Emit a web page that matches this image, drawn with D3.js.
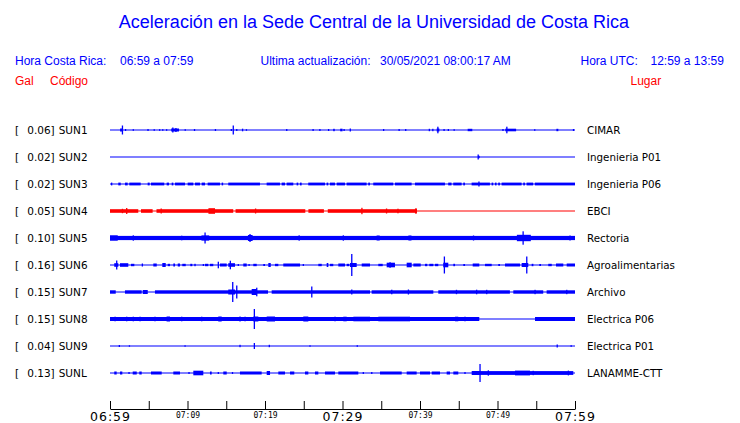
<!DOCTYPE html>
<html><head><meta charset="utf-8">
<script src="https://cdn.jsdelivr.net/npm/d3@7/dist/d3.min.js"></script>
<style>
html,body{margin:0;padding:0;background:#fff;}
svg{display:block;}
</style></head>
<body>
<script>
// ---------- DATA ----------
const codes  = ["SUN1","SUN2","SUN3","SUN4","SUN5","SUN6","SUN7","SUN8","SUN9","SUNL"];
const galMax = ["0.06","0.02","0.02","0.05","0.10","0.16","0.15","0.15","0.04","0.13"];
const places = ["CIMAR","Ingenieria P01","Ingenieria P06","EBCI","Rectoria","Agroalimentarias","Archivo","Electrica P06","Electrica P01","LANAMME-CTT"];
// minutes after 06:59 for every 5-minute tick; labels only every 10 min
const tickMinutes = [0,5,10,15,20,25,30,35,40,45,50,55,60];
const tickLabels  = ["06:59","","07:09","","07:19","","07:29","","07:39","","07:49","","07:59"];
const majorLabels = ["06:59","07:29","07:59"];

// Continuous noise bands per station: [startMin, endMin, halfAmplitude]
const sun1Bands = [];
const sun2Bands = [];
const sun3Bands = [[0.13,0.30,1.4],[1.07,1.38,1.4],[1.94,2.28,1.4],[2.49,3.96,1.4],[4.86,5.12,1.4],[5.29,7.0,1.4],[7.31,7.61,1.4],[7.96,8.17,1.4],[8.39,9.68,1.4],[10.02,10.75,1.4],[10.97,11.61,1.4],[11.83,12.26,1.4],[12.6,14.19,1.4],[14.41,14.6,1.4],[15.26,19.35,1.4],[20.21,21.93,1.4],[22.15,22.58,1.4],[22.79,23.65,1.4],[24.08,24.29,1.4],[24.51,24.73,1.4],[25.58,27.74,1.4],[27.95,28.16,1.4],[28.38,29.03,1.4],[29.25,30.32,1.4],[30.53,33.11,1.4],[33.32,33.54,1.4],[33.97,36.55,1.4],[36.77,38.92,1.4],[39.35,43.22,1.4],[43.64,44.07,1.4],[44.29,45.37,1.4],[45.58,45.8,1.4],[46.66,49.02,1.4],[49.24,49.45,1.4],[49.67,49.88,1.4],[50.09,50.31,1.4],[50.53,53.11,1.4],[53.32,53.54,1.4],[53.75,54.6,1.4],[54.82,60,1.4]];
const sun4Bands = [[0,3.65,1.8],[4.0,5.5,1.8],[6.0,15.9,1.8],[16.2,25.2,1.8],[25.6,27.6,1.8],[28.1,39.6,1.8]];
const sun5Bands = [[0,60,2.1],[0,1.0,2.7]];
const sun6Bands = [];
const sun7Bands = [[0,0.74,1.7],[1.93,4.09,1.7],[5.8,20.39,1.7],[20.86,33.55,1.7],[33.76,41.72,1.7],[42.36,51.6,1.7],[52.04,55.9,1.7],[56.34,60,1.7]];
const sun8Bands = [[0,47.65,2.0],[54.84,60,2.0]];
const sun9Bands = [];
const sunLBands = [[47.74,59.78,1.9]];

// Bursts and spikes per station: [startMin, endMin, halfAmplitude]
const sun1Bursts = [[1.3,1.6,1.5],[1.6,1.6,4.5],[2.0,2.0,1],[3.0,3.0,0.8],[4.9,4.9,1],[5.7,5.7,0.8],[6.4,6.4,0.8],[6.8,6.8,0.8],[7.3,7.3,0.8],[7.9,8.9,1.5],[8.1,8.1,2.5],[8.5,8.5,2],[9.7,9.7,0.8],[10.9,10.9,1],[13.6,13.6,1],[15.65,15.65,1],[15.9,15.9,4.5],[16.35,16.35,1],[17.1,17.1,1.3],[17.6,17.6,0.8],[22.8,22.8,1],[26.2,26.2,1],[27.0,27.1,1],[28.2,28.2,1],[28.8,29.0,1.2],[29.7,30.0,1.3],[30.2,30.2,1],[31.0,31.0,1.5],[35.3,35.3,1],[37.3,37.3,1],[38.15,38.15,1],[41.2,41.2,1.2],[41.65,41.65,1.2],[42.15,42.5,1.5],[42.3,42.3,3.3],[43.1,43.1,1],[43.65,43.65,1],[44.4,44.4,0.8],[46.15,46.75,1.2],[50.7,50.7,1],[51.0,52.4,1.3],[51.2,51.2,3.3],[54.8,54.8,0.8],[57.6,57.85,1.2],[59.8,59.8,1]];
const sun2Bursts = [[47.5,47.7,1.2],[47.5,47.5,2.5]];
const sun3Bursts = [[47.6,47.6,2.5]];
const sun4Bursts = [[1.6,1.6,2.2],[2.15,2.15,3],[6.6,6.6,2.5],[12.7,13.55,2.8],[18.7,18.8,2.5],[32.5,32.5,3.2],[35.6,35.7,2.5],[37.15,37.15,2.3],[39.35,39.6,2.6]];
const sun5Bursts = [[3.0,3.0,2.7],[9.25,9.25,2.3],[11.8,12.8,2.6],[12.26,12.26,5.5],[17.8,18.4,3.0],[18.06,18.06,4],[24.4,24.4,2.7],[30.1,30.1,2.7],[34.4,34.8,2.5],[38.5,38.9,2.5],[46.9,46.9,2.5],[52.5,54.3,3.2],[53.3,53.3,6.7],[59.35,59.35,2.5]];
const sun6Bursts = [[0.55,1.07,1.8],[0.86,0.86,4.5],[1.29,2.36,1.8],[2.71,3.14,1.2],[4.17,4.17,1.5],[5.59,6.03,1.5],[6.75,7.19,2],[7.45,7.74,1.2],[8.17,8.39,1.5],[8.74,9.03,1.5],[9.33,9.77,1.2],[10.36,10.62,1.2],[10.88,11.06,1.2],[12.04,12.04,1],[12.26,12.68,1.2],[12.9,13.33,1.2],[13.97,13.97,3.3],[14.19,15.06,1.5],[15.26,16.13,1.8],[15.52,15.52,4.3],[16.55,16.55,1],[17.2,17.64,1.5],[17.94,17.94,1],[18.49,18.93,1.2],[19.78,20.0,1],[20.43,20.74,2],[21.29,21.72,1.2],[22.36,24.52,1.5],[24.94,24.94,1],[26.88,27.32,1.2],[27.96,28.17,2],[28.39,28.81,1.2],[29.46,30.32,1.5],[30.54,30.88,1.2],[30.97,31.83,2],[31.19,31.19,11],[32.48,33.55,1.5],[34.62,35.19,1.2],[35.7,36.77,2.3],[36.13,36.13,2.8],[38.28,38.93,2.3],[39.14,40.09,1.5],[40.65,40.94,1.2],[41.2,41.72,1.2],[41.94,42.36,1.2],[43.0,43.65,2.3],[43.14,43.14,8.5],[44.3,44.52,1.2],[45.59,45.81,1],[46.8,47.65,1.5],[48.39,49.25,1.2],[50.1,50.32,1],[50.97,52.9,1.5],[53.12,53.97,2],[53.77,53.77,8.5],[54.41,54.63,1.2],[55.39,55.61,1],[56.55,57.0,1.2],[57.55,58.49,1.5],[58.93,60,1.5]];
const sun7Bursts = [[4.22,4.87,2],[15.26,16.13,2.5],[15.83,15.83,10],[16.35,16.35,6.5],[18.28,18.93,3],[18.93,18.93,4.3],[26.03,26.03,5.5],[31.19,31.19,2.5],[36.35,36.35,2.3],[38.5,38.5,2.5],[44.7,44.7,2.2],[47.3,47.3,2.3],[48.6,48.6,2.2],[54.84,54.84,2.2],[58.93,58.93,2.2]];
const sun8Bursts = [[0.65,0.65,2.3],[2.15,2.15,2.3],[3.0,3.0,2.3],[3.87,3.87,2.3],[5.8,5.8,2.3],[7.3,7.74,2.5],[9.25,9.25,2.3],[11.83,11.83,2.3],[13.97,14.41,2.5],[16.77,16.77,2.5],[17.42,17.42,2.3],[18.5,19.14,2.5],[18.62,18.62,10],[20.22,21.29,2.5],[24.94,25.59,2.5],[29.03,29.03,2.3],[30.1,30.54,2.3],[31.4,33.55,2.3],[34.62,38.71,2.3],[44.52,44.94,2.3],[45.8,45.8,2.3]];
const sun9Bursts = [[1.2,1.2,1],[2.5,2.5,0.7],[9.68,9.68,0.7],[16.77,16.77,1.2],[18.62,18.62,3],[20.55,20.55,1.2],[25.8,25.8,0.7],[31.9,31.9,0.8],[57.7,57.7,1.5],[59.5,59.5,0.8]];
const sunLBursts = [[0.55,0.86,1.5],[1.29,1.59,1.5],[2.45,2.45,1],[2.93,3.45,1.5],[3.78,4.09,1.5],[5.29,6.67,1.5],[8.17,9.03,1.5],[10.19,10.19,1],[10.75,12.04,2.3],[12.9,13.12,1.5],[13.97,13.97,1],[14.62,15.06,1.5],[15.8,15.8,1],[16.77,19.57,1.5],[20.22,20.65,2],[21.72,22.58,1.5],[23.23,23.78,1.5],[25.16,25.59,1.5],[26.45,26.88,1.5],[27.74,29.03,1.5],[29.46,32.04,1.5],[32.68,32.68,1],[33.77,33.77,1],[34.84,37.64,1.5],[38.28,39.57,1.5],[40.0,41.29,1.5],[41.51,42.58,1.5],[43.44,43.87,1.5],[44.3,44.94,1.5],[45.8,45.8,1],[46.67,47.74,2],[47.74,47.74,9],[48.81,48.81,2.7],[52.26,54.19,2.4],[54.6,54.6,2.2],[59.14,59.14,2.4]];
const traceBands  = [sun1Bands,sun2Bands,sun3Bands,sun4Bands,sun5Bands,sun6Bands,sun7Bands,sun8Bands,sun9Bands,sunLBands];
const traceBursts = [sun1Bursts,sun2Bursts,sun3Bursts,sun4Bursts,sun5Bursts,sun6Bursts,sun7Bursts,sun8Bursts,sun9Bursts,sunLBursts];

// ---------- STYLE ----------
const BLUE = "#0000ff", RED = "#ff0000";
const rowColor = c => c === "SUN4" ? RED : BLUE;

const W = 740, H = 423;
const svg = d3.select("body").append("svg").attr("width", W).attr("height", H);
const sans = "'Liberation Sans', Arial, Helvetica, sans-serif";
const dv = "'DejaVu Sans', Verdana, sans-serif";
const mono = "'DejaVu Sans Mono', monospace";

// Header
svg.append("text").attr("x", 374).attr("y", 28).attr("text-anchor","middle")
  .attr("font-family", sans).attr("font-size", 18).attr("fill", BLUE)
  .text("Aceleración en la Sede Central de la Universidad de Costa Rica");
const hdr = [
  [15, 65, "Hora Costa Rica:", BLUE],[120, 65, "06:59 a 07:59", BLUE],
  [260.5, 65, "Ultima actualización:", BLUE],[380, 65, "30/05/2021 08:00:17 AM", BLUE],
  [580.5, 65, "Hora UTC:", BLUE],[650.5, 65, "12:59 a 13:59", BLUE],
  [15, 85, "Gal", RED],[50, 85, "Código", RED],[630.5, 85, "Lugar", RED]
];
svg.selectAll("text.hdr").data(hdr).join("text").attr("class","hdr")
  .attr("x", d=>d[0]).attr("y", d=>d[1]).attr("font-family", sans).attr("font-size", 12)
  .attr("fill", d=>d[3]).text(d=>d[2]);

// Scales
const x = d3.scaleLinear().domain([0, 60]).range([110, 575]);
const y = d3.scalePoint().domain(codes).range([130, 373]);
const amp = d3.scaleLinear().domain([0, 10]).range([0, 10]);

const rows = svg.selectAll("g.row").data(codes).join("g").attr("class","row")
  .attr("transform", d => `translate(0,${y(d)})`);

rows.append("text").attr("x", 15).attr("y", 4).attr("font-family", dv).attr("font-size", 10.5).attr("fill","#000").text("[");
rows.append("text").attr("x", 54.7).attr("y", 4).attr("text-anchor","end").attr("font-family", dv).attr("font-size", 10.5).attr("fill","#000").text((d,i)=>galMax[i] + "]");
rows.append("text").attr("x", 58.7).attr("y", 4).attr("font-family", dv).attr("font-size", 10.5).attr("fill","#000").text(d=>d);
rows.append("text").attr("x", 587).attr("y", 4).attr("font-family", dv).attr("font-size", 10.3).attr("fill","#000").text((d,i)=>places[i]);

// baseline
rows.append("line").attr("x1", x(0)).attr("x2", x(60)).attr("y1", 0).attr("y2", 0)
  .attr("stroke", d=>rowColor(d)).attr("stroke-width", 1.2);

// bands and bursts
rows.each(function(code, i){
  const g = d3.select(this);
  g.selectAll("rect.band").data(traceBands[i]).join("rect").attr("class","band")
    .attr("x", d=>x(d[0])).attr("width", d=>Math.max(1, x(d[1])-x(d[0])))
    .attr("y", d=>-amp(d[2])).attr("height", d=>2*amp(d[2]))
    .attr("fill", rowColor(code));
  g.selectAll("rect.burst").data(traceBursts[i]).join("rect").attr("class","burst")
    .attr("x", d=>x(d[0]) - (d[1]===d[0] ? 0.6 : 0)).attr("width", d=>Math.max(1.3, x(d[1])-x(d[0])))
    .attr("y", d=>-amp(d[2])).attr("height", d=>2*amp(d[2]))
    .attr("fill", rowColor(code));
});

// time axis
const axis = d3.axisBottom(x).tickValues(tickMinutes).tickSizeInner(-8).tickSizeOuter(0).tickPadding(3)
  .tickFormat((d,i)=>tickLabels[i]);
const ga = svg.append("g").attr("transform","translate(0,409)").call(axis);
ga.select(".domain").attr("stroke","#000").attr("stroke-width",1);
ga.selectAll(".tick line").attr("stroke","#000").attr("stroke-width",1);
ga.selectAll(".tick text").attr("fill","#000")
  .attr("font-family", (d,i)=> majorLabels.includes(tickLabels[i]) ? dv : mono)
  .attr("font-size", (d,i)=> majorLabels.includes(tickLabels[i]) ? 12.5 : 8)
  .attr("letter-spacing", (d,i)=> majorLabels.includes(tickLabels[i]) ? 1 : 0);
</script>
</body></html>
